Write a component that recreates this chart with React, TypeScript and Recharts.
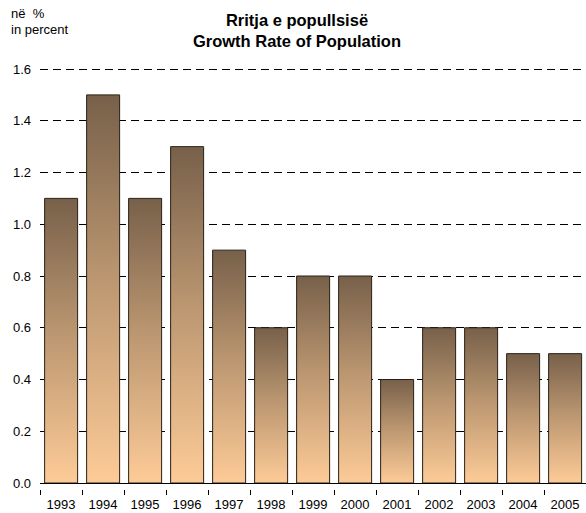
import { BarChart, Bar, XAxis, YAxis, CartesianGrid } from "recharts";

const years = ["1993", "1994", "1995", "1996", "1997", "1998", "1999", "2000", "2001", "2002", "2003", "2004", "2005"];
const growthRate = [1.1, 1.5, 1.1, 1.3, 0.9, 0.6, 0.8, 0.8, 0.4, 0.6, 0.6, 0.5, 0.5];
const yTicks = [0, 0.2, 0.4, 0.6, 0.8, 1.0, 1.2, 1.4, 1.6];

const data = years.map((year, i) => ({ year, value: growthRate[i] }));

const FONT = "Arial, 'Liberation Sans', sans-serif";

// category axis tick: label in the middle, tick mark at the left band edge
function YearTick(props: any) {
  const { x, y, payload } = props;
  const half = payload && payload.offset ? payload.offset : 21;
  return (
    <g>
      <line x1={x - half} x2={x - half} y1={y - 1} y2={y + 4} stroke="#000" shapeRendering="crispEdges" />
      <text x={x} y={y + 18} textAnchor="middle" fontSize={13} fontFamily={FONT} fill="#000">
        {payload.value}
      </text>
    </g>
  );
}

export default function App() {
  return (
    <div style={{ position: "absolute", left: 0, top: 0, width: 586, height: 513, background: "#fff" }}>
      <div style={{ position: "absolute", left: 11, top: 6, fontFamily: FONT, fontSize: 13, lineHeight: "16px", whiteSpace: "pre" }}>
        {"në  %\nin percent"}
      </div>
      <div
        style={{
          position: "absolute",
          left: 0,
          top: 10,
          width: 594,
          textAlign: "center",
          fontFamily: FONT,
          fontSize: 16.5,
          fontWeight: "bold",
          lineHeight: "21px",
        }}
      >
        Rritja e popullsisë
        <br />
        Growth Rate of Population
      </div>
      <BarChart
        width={586}
        height={513}
        data={data}
        margin={{ top: 69, right: 0, bottom: 0, left: 0 }}
        barCategoryGap="11%"
      >
        <defs>
          <linearGradient id="barFill" x1="0" y1="0" x2="0" y2="1">
            <stop offset="0%" stopColor="#77604a" />
            <stop offset="45%" stopColor="#b8946f" />
            <stop offset="100%" stopColor="#fdcb97" />
          </linearGradient>
        </defs>
        <CartesianGrid vertical={false} stroke="#000" strokeDasharray="8 5" shapeRendering="crispEdges" />
        <XAxis
          dataKey="year"
          axisLine={{ stroke: "#000", shapeRendering: "crispEdges" }}
          tickLine={false}
          tick={<YearTick />}
          interval={0}
          height={30}
        />
        <YAxis
          domain={[0, 1.6]}
          ticks={yTicks}
          tickFormatter={(v: number) => v.toFixed(1)}
          axisLine={false}
          tickLine={false}
          tickSize={0}
          tickMargin={9}
          width={40}
          tick={{ fill: "#000", fontSize: 13, fontFamily: FONT }}
        />
        <Bar dataKey="value" fill="url(#barFill)" stroke="#2a2016" strokeWidth={1} isAnimationActive={false} />
      </BarChart>
    </div>
  );
}
